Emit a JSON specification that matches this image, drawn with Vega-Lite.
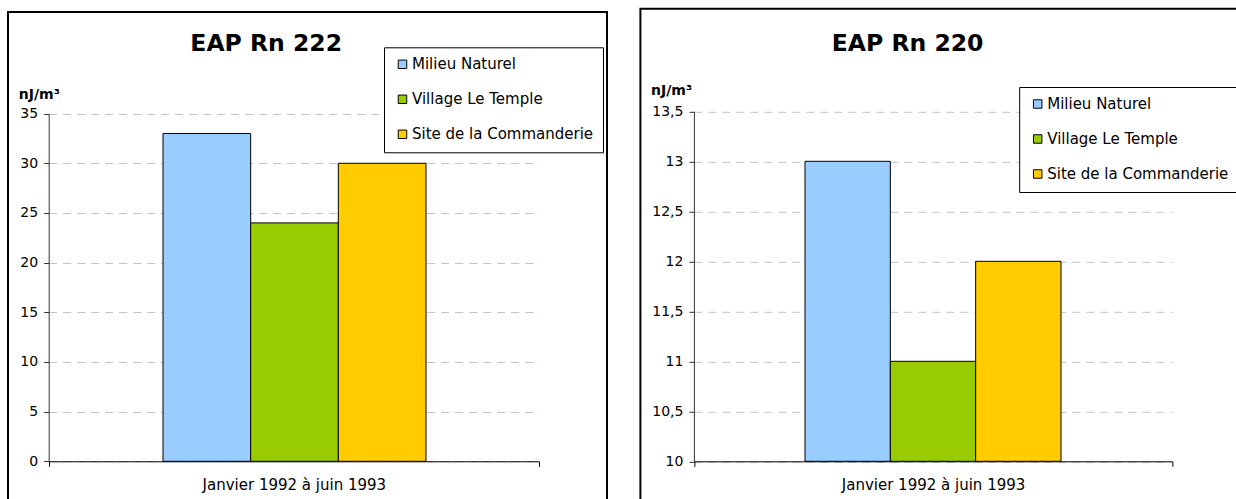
{
  "$schema": "https://vega.github.io/schema/vega-lite/v6.json",
  "padding": {"left": 7, "top": 7.5, "right": 0, "bottom": 0},
  "background": "white",
  "datasets": {
    "rn222": [
      {"period": "Janvier 1992 à juin 1993", "site": "Milieu Naturel", "value": 33},
      {"period": "Janvier 1992 à juin 1993", "site": "Village Le Temple", "value": 24},
      {"period": "Janvier 1992 à juin 1993", "site": "Site de la Commanderie", "value": 30}
    ],
    "rn220": [
      {"period": "Janvier 1992 à juin 1993", "site": "Milieu Naturel", "value": 13},
      {"period": "Janvier 1992 à juin 1993", "site": "Village Le Temple", "value": 11},
      {"period": "Janvier 1992 à juin 1993", "site": "Site de la Commanderie", "value": 12}
    ]
  },
  "hconcat": [
    {
      "width": 599,
      "height": 492,
      "data": {"name": "rn222"},
      "title": {"text": "EAP Rn 222", "font": "DejaVu Sans", "fontSize": 23.5, "fontWeight": "bold", "color": "black", "anchor": "middle", "frame": "group", "dx": -41.3, "dy": 21.6, "offset": -41, "baseline": "alphabetic"},
      "mark": {"type": "bar", "stroke": "black", "strokeWidth": 1},
      "encoding": {
        "x": {
          "field": "period", "type": "nominal",
          "scale": {"range": [40.7, 531], "paddingInner": 0, "paddingOuter": 0},
          "axis": {"title": null, "orient": "bottom", "offset": -42.7, "ticks": true, "tickBand": "extent", "tickSize": 5, "tickColor": "black", "labelPadding": 11, "labelAngle": 0, "labelBaseline": "top", "labelLimit": 400, "labelFont": "DejaVu Sans", "labelFontSize": 15, "labelColor": "black", "domainColor": "black", "grid": false}
        },
        "xOffset": {"field": "site", "type": "nominal", "sort": ["Milieu Naturel", "Village Le Temple", "Site de la Commanderie"], "scale": {"paddingInner": 0, "paddingOuter": 0, "range": [114.3, 377.3]}},
        "y": {
          "field": "value", "type": "quantitative",
          "scale": {"domain": [0, 35], "range": [449.3, 101.6], "nice": false},
          "axis": {"title": "nJ/m³", "orient": "left", "offset": -40.7, "values": [0, 5, 10, 15, 20, 25, 30, 35], "tickSize": 5, "tickColor": "#333", "domainColor": "#333", "labelPadding": 6, "labelFont": "DejaVu Sans", "labelFontSize": 14, "labelColor": "black", "grid": true, "gridColor": "#c4c4c4", "gridDash": [8, 6], "titleAngle": 0, "titleAlign": "left", "titleBaseline": "alphabetic", "titleX": -30.4, "titleY": 86, "titleFont": "DejaVu Sans", "titleFontSize": 14, "titleFontWeight": "bold", "titleColor": "black"}
        },
        "y2": {"datum": 0},
        "color": {
          "field": "site", "type": "nominal",
          "sort": ["Milieu Naturel", "Village Le Temple", "Site de la Commanderie"],
          "scale": {"domain": ["Milieu Naturel", "Village Le Temple", "Site de la Commanderie"], "range": ["#99CCFF", "#99CC00", "#FFCC00"]},
          "legend": {"title": null, "orient": "none", "legendX": 376, "legendY": 35.3, "strokeColor": "black", "fillColor": "white", "padding": 9.5, "rowPadding": 19, "symbolType": "square", "symbolSize": 72, "symbolStrokeColor": "black", "symbolStrokeWidth": 1, "symbolOffset": 1.5, "labelOffset": 2, "labelLimit": 400, "labelFont": "DejaVu Sans", "labelFontSize": 15, "labelColor": "black"}
        }
      }
    },
    {
      "width": 599,
      "height": 498.4,
      "data": {"name": "rn220"},
      "title": {"text": "EAP Rn 220", "font": "DejaVu Sans", "fontSize": 23.5, "fontWeight": "bold", "color": "black", "anchor": "middle", "frame": "group", "dx": -32.3, "dy": 23, "offset": -42.5, "baseline": "alphabetic"},
      "mark": {"type": "bar", "stroke": "black", "strokeWidth": 1},
      "encoding": {
        "x": {
          "field": "period", "type": "nominal",
          "scale": {"range": [53.5, 531.8], "paddingInner": 0, "paddingOuter": 0},
          "axis": {"title": null, "orient": "bottom", "offset": -45.9, "ticks": true, "tickBand": "extent", "tickSize": 5, "tickColor": "black", "labelPadding": 11, "labelAngle": 0, "labelBaseline": "top", "labelLimit": 400, "labelFont": "DejaVu Sans", "labelFontSize": 15, "labelColor": "black", "domainColor": "black", "grid": false}
        },
        "xOffset": {"field": "site", "type": "nominal", "sort": ["Milieu Naturel", "Village Le Temple", "Site de la Commanderie"], "scale": {"paddingInner": 0, "paddingOuter": 0, "range": [111.1, 367.1]}},
        "y": {
          "field": "value", "type": "quantitative",
          "scale": {"domain": [10, 13.5], "range": [452.5, 102.5], "nice": false, "zero": false},
          "axis": {"title": "nJ/m³", "orient": "left", "offset": -53.5, "values": [10, 10.5, 11, 11.5, 12, 12.5, 13, 13.5], "labelExpr": "replace(format(datum.value, '.1~f'), '.', ',')", "tickSize": 5, "tickColor": "#333", "domainColor": "#333", "labelPadding": 6, "labelFont": "DejaVu Sans", "labelFontSize": 14, "labelColor": "black", "grid": true, "gridColor": "#c4c4c4", "gridDash": [8, 6], "titleAngle": 0, "titleAlign": "left", "titleBaseline": "alphabetic", "titleX": -43.4, "titleY": 85.8, "titleFont": "DejaVu Sans", "titleFontSize": 14, "titleFontWeight": "bold", "titleColor": "black"}
        },
        "y2": {"datum": 10},
        "color": {
          "field": "site", "type": "nominal",
          "sort": ["Milieu Naturel", "Village Le Temple", "Site de la Commanderie"],
          "scale": {"domain": ["Milieu Naturel", "Village Le Temple", "Site de la Commanderie"], "range": ["#99CCFF", "#99CC00", "#FFCC00"]},
          "legend": {"title": null, "orient": "none", "legendX": 378.8, "legendY": 78.2, "strokeColor": "black", "fillColor": "white", "padding": 9.5, "rowPadding": 19, "symbolType": "square", "symbolSize": 72, "symbolStrokeColor": "black", "symbolStrokeWidth": 1, "symbolOffset": 1.5, "labelOffset": 2, "labelLimit": 400, "labelFont": "DejaVu Sans", "labelFontSize": 15, "labelColor": "black"}
        }
      }
    }
  ],
  "spacing": 33.4,
  "bounds": "flush",
  "center": true,
  "resolve": {"scale": {"color": "independent", "x": "independent", "y": "independent", "xOffset": "independent"}, "legend": {"color": "independent"}},
  "config": {
    "font": "DejaVu Sans",
    "view": {"stroke": "black", "strokeWidth": 2, "fill": "white"}
  }
}
